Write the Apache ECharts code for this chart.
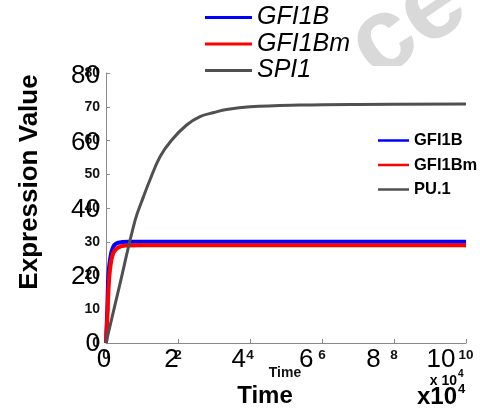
<!DOCTYPE html>
<html>
<head>
<meta charset="utf-8">
<script src="https://cdn.jsdelivr.net/npm/echarts@6/dist/echarts.min.js"></script>
<style>
html,body{margin:0;padding:0;background:#fff;}
#chart{width:480px;height:418px;}
</style>
</head>
<body>
<div id="chart"></div>
<script>
// ---- data (time in units of 10^4) ----
const seriesNames = ['GFI1B', 'GFI1Bm', 'SPI1'];
const legendAltNames = ['GFI1B', 'GFI1Bm', 'PU.1'];

const timeGFI1B = [0, 0.036, 0.065, 0.11, 0.2, 0.34, 0.62, 1, 2, 5, 10];
const valGFI1B  = [0, 9.8, 19.7, 24.6, 28.5, 29.7, 30, 30, 30, 30, 30];

const timeGFI1Bm = [0, 0.03, 0.065, 0.11, 0.2, 0.34, 0.56, 1, 2, 5, 10];
const valGFI1Bm  = [0, 6, 14.7, 21.6, 26.6, 28.3, 28.9, 29, 29, 29, 29];

const timeSPI1 = [0, 0.37, 0.81, 1.04, 1.22, 1.5, 1.82, 2.24, 2.61, 3.0, 3.35, 4.0, 5.39, 7, 10];
const valSPI1  = [0, 16.7, 36.4, 43.3, 48.3, 55.2, 60.1, 64.6, 67.1, 68.3, 69.2, 70.0, 70.5, 70.7, 70.8];

const xTicks = [0, 2, 4, 6, 8, 10];
const yTicksSmall = [0, 10, 20, 30, 40, 50, 60, 70, 80];
const yTicksLarge = [0, 20, 40, 60, 80];

const FONT = "'Liberation Sans', Arial, sans-serif";

function pairs(t, v) { return t.map((x, i) => [x, v[i]]); }

const chart = echarts.init(document.getElementById('chart'), null, {renderer: 'canvas'});

const axisGray = '#8a8a8a';

const option = {
  backgroundColor: '#fff',
  animation: false,
  textStyle: {fontFamily: FONT},
  grid: [
    {left: 106, right: 14, top: 73, bottom: 75},
    {left: 104, right: 39, top: 76, bottom: 74}
  ],
  xAxis: [
    {
      type: 'value', gridIndex: 0, min: 0, max: xTicks[xTicks.length - 1], interval: 2,
      axisLine: {show: true, lineStyle: {color: axisGray, width: 1}},
      axisTick: {show: true, inside: true, length: 4, lineStyle: {color: axisGray}},
      splitLine: {show: false},
      axisLabel: {fontSize: 13.5, fontWeight: 'bold', color: '#111', margin: 5, fontFamily: FONT}
    },
    {
      type: 'value', gridIndex: 1, min: 0, max: xTicks[xTicks.length - 1], interval: 2,
      axisLine: {show: false}, axisTick: {show: false}, splitLine: {show: false},
      axisLabel: {fontSize: 26, color: '#000', margin: 3, fontFamily: FONT}
    }
  ],
  yAxis: [
    {
      type: 'value', gridIndex: 0, min: 0, max: yTicksSmall[yTicksSmall.length - 1], interval: 10,
      axisLine: {show: true, lineStyle: {color: axisGray, width: 1}},
      axisTick: {show: true, inside: true, length: 4, lineStyle: {color: axisGray}},
      splitLine: {show: false},
      axisLabel: {fontSize: 14, fontWeight: 'bold', color: '#111', margin: 6, fontFamily: FONT}
    },
    {
      type: 'value', gridIndex: 1, min: 0, max: yTicksLarge[yTicksLarge.length - 1], interval: 20,
      axisLine: {show: false}, axisTick: {show: false}, splitLine: {show: false},
      axisLabel: {fontSize: 26, color: '#000', margin: 4, fontFamily: FONT}
    }
  ],
  legend: [
    {
      data: seriesNames, orient: 'vertical', left: 205, top: 5, padding: 0,
      icon: 'rect', itemWidth: 47, itemHeight: 3, itemGap: 1.5,
      textStyle: {fontSize: 25, fontStyle: 'italic', color: '#000', fontFamily: FONT},
      selectedMode: false
    },
    {
      data: seriesNames, orient: 'vertical', left: 378, top: 132, padding: 0,
      icon: 'rect', itemWidth: 31, itemHeight: 2.5, itemGap: 7.5,
      formatter: function (name) { return legendAltNames[seriesNames.indexOf(name)]; },
      textStyle: {fontSize: 16.5, fontWeight: 'bold', color: '#000', fontFamily: FONT},
      selectedMode: false
    }
  ],
  series: [
    {
      name: seriesNames[0], type: 'line', xAxisIndex: 0, yAxisIndex: 0,
      data: pairs(timeGFI1B, valGFI1B), smooth: 0.4,
      showSymbol: false, color: '#0000ff', lineStyle: {width: 4, color: '#0000ff'}
    },
    {
      name: seriesNames[1], type: 'line', xAxisIndex: 0, yAxisIndex: 0,
      data: pairs(timeGFI1Bm, valGFI1Bm), smooth: 0.4,
      showSymbol: false, color: '#ff0000', lineStyle: {width: 4, color: '#ff0000'}
    },
    {
      name: seriesNames[2], type: 'line', xAxisIndex: 0, yAxisIndex: 0,
      data: pairs(timeSPI1, valSPI1), smooth: 0.4,
      showSymbol: false, color: '#505050', lineStyle: {width: 3, color: '#505050'}
    }
  ],
  graphic: [
    {
      type: 'text', z: -2, x: 408, y: 25, rotation: 0.6,
      style: {text: 'ce', font: "bold 105px " + FONT, fill: '#d9d9d9', align: 'center', verticalAlign: 'middle'}
    },
    {
      type: 'rect', z: -1, shape: {x: 0, y: 66, width: 480, height: 352},
      style: {fill: '#fff'}
    },
    {
      type: 'text', x: 30, y: 182, rotation: Math.PI / 2,
      style: {text: 'Expression Value', font: "bold 26px " + FONT, fill: '#000', align: 'center', verticalAlign: 'middle'}
    },
    {
      type: 'text', x: 285, y: 373,
      style: {text: 'Time', font: "bold 14px " + FONT, fill: '#111', align: 'center', verticalAlign: 'middle'}
    },
    {
      type: 'text', x: 457, y: 381,
      style: {text: 'x 10', font: "bold 14px " + FONT, fill: '#000', align: 'right', verticalAlign: 'middle'}
    },
    {
      type: 'text', x: 458, y: 374,
      style: {text: '4', font: "bold 10px " + FONT, fill: '#000', align: 'left', verticalAlign: 'middle'}
    },
    {
      type: 'text', x: 265, y: 396,
      style: {text: 'Time', font: "bold 24px " + FONT, fill: '#000', align: 'center', verticalAlign: 'middle'}
    },
    {
      type: 'text', x: 457, y: 397,
      style: {text: 'x10', font: "bold 24px " + FONT, fill: '#000', align: 'right', verticalAlign: 'middle'}
    },
    {
      type: 'text', x: 458, y: 389,
      style: {text: '4', font: "bold 13px " + FONT, fill: '#000', align: 'left', verticalAlign: 'middle'}
    }
  ]
};

chart.setOption(option);
</script>
</body>
</html>
